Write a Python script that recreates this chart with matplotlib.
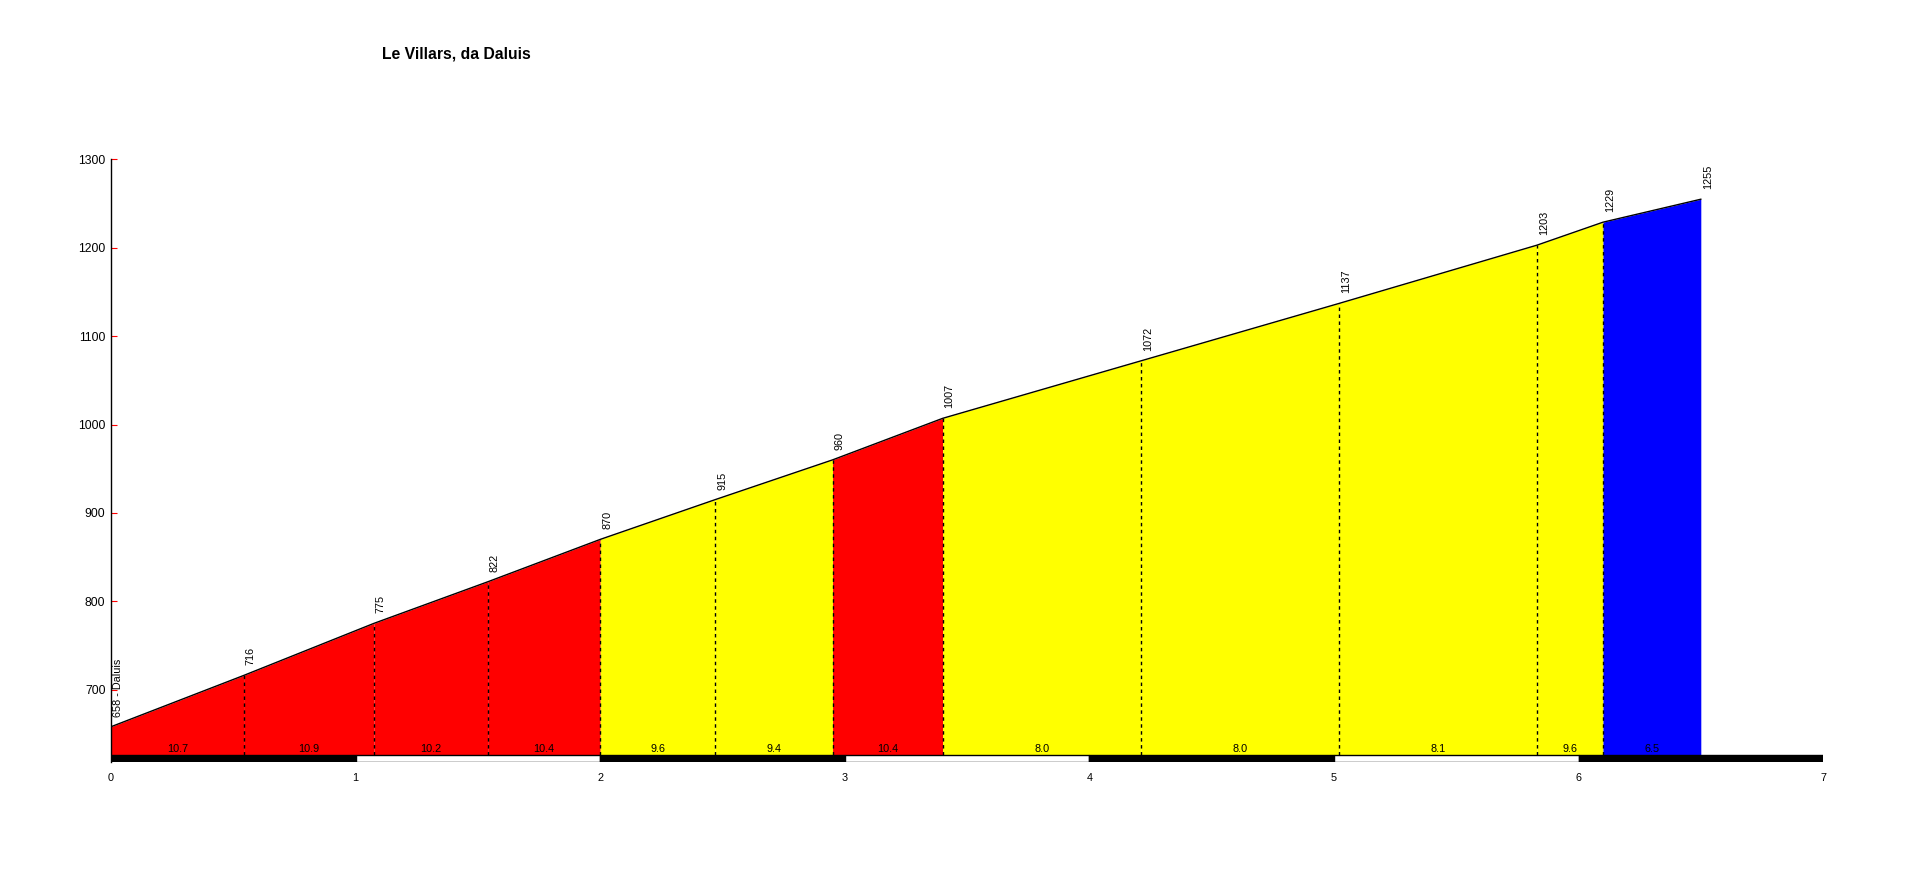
import matplotlib
matplotlib.use("Agg")
from matplotlib import pyplot as plt
from matplotlib.patches import Rectangle

plt.rcParams["font.family"] = ["Liberation Sans", "DejaVu Sans"]

TITLE = "Le Villars, da Daluis"
DIST_KM = [0, 0.542, 1.075, 1.54, 2.0, 2.47, 2.95, 3.40, 4.21, 5.02, 5.83, 6.10, 6.50]
ELEV_M = [658, 716, 775, 822, 870, 915, 960, 1007, 1072, 1137, 1203, 1229, 1255]
ELEV_LABELS = ["658 - Daluis", "716", "775", "822", "870", "915", "960", "1007",
               "1072", "1137", "1203", "1229", "1255"]
GRADES = [10.7, 10.9, 10.2, 10.4, 9.6, 9.4, 10.4, 8.0, 8.0, 8.1, 9.6, 6.5]
Y_TICKS = [700, 800, 900, 1000, 1100, 1200, 1300]
X_TICKS = [0, 1, 2, 3, 4, 5, 6, 7]


def _grade_colour(g):
    if g >= 10:
        return "#FF0000"
    if g >= 8:
        return "#FFFF00"
    return "#0000FF"


fig = plt.figure(figsize=(19.08, 8.81), dpi=100)
ax = fig.add_axes([0.0582, 0.135, 0.8973, 0.684])

base = 625.5
bar_lo = 618.3

for i, g in enumerate(GRADES):
    xs = DIST_KM[i:i + 2]
    ys = ELEV_M[i:i + 2]
    ax.fill_between(xs, ys, base, color=_grade_colour(g), lw=0)
    ax.text(sum(xs) / 2, 633, f"{g:.1f}", ha="center", va="center", fontsize=7.8)

ax.plot(DIST_KM, ELEV_M, color="black", lw=1)

# dashed separators between segments
for x, h in zip(DIST_KM[1:-1], ELEV_M[1:-1]):
    ax.plot([x, x], [base, h], color="black", lw=1, linestyle=(0, (2.5, 2.5)))

for x, h, lab in zip(DIST_KM, ELEV_M, ELEV_LABELS):
    ax.annotate(lab, (x, h), xytext=(2, 10), textcoords="offset pixels",
                rotation=90, ha="left", va="bottom", fontsize=7.8)

# km scale bar
for k in range(7):
    ax.add_patch(Rectangle((k, bar_lo), 1, base - bar_lo,
                           facecolor="black" if k % 2 == 0 else "white",
                           edgecolor="black", lw=1, zorder=3))

ax.set_xlim(0, 7)
ax.set_ylim(bar_lo - 0.3, 1300)
ax.set_xticks(X_TICKS)
ax.set_yticks(Y_TICKS)
ax.tick_params(axis="x", length=0, pad=8, labelsize=7.8)
ax.tick_params(axis="y", direction="in", length=4, color="red", pad=4, labelsize=8.8)
for side in ["top", "right", "bottom"]:
    ax.spines[side].set_visible(False)
ax.spines["left"].set_linewidth(1)

fig.text(0.239, 0.939, TITLE, ha="center", va="center", fontsize=11.3, fontweight="bold")

fig.savefig("out.png", dpi=100)
